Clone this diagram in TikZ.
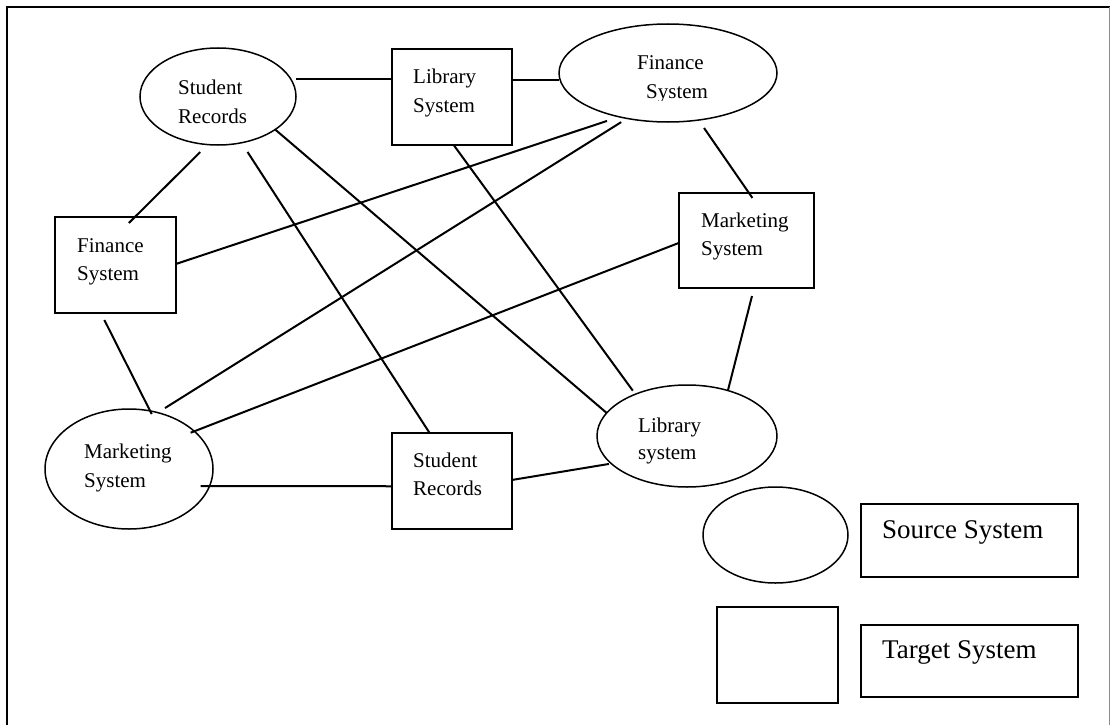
\documentclass[tikz,border=0pt]{standalone}
\usepackage{fontspec}
\setmainfont{Liberation Serif}
\usetikzlibrary{shapes.geometric}
\begin{document}
\begin{tikzpicture}[x=1pt,y=-1pt,
  oval/.style n args={2}{draw,line width=1.5pt,ellipse,inner sep=0pt,outer sep=0pt,minimum width=#1,minimum height=#2},
  box/.style n args={2}{draw,line width=1.5pt,rectangle,inner sep=0pt,outer sep=0pt,minimum width=#1,minimum height=#2},
  lbl/.style={anchor=base west,inner sep=0pt,font=\fontsize{21}{25}\selectfont},
  biglbl/.style={anchor=base west,inner sep=0pt,font=\fontsize{27}{32}\selectfont},
  link/.style={line width=2pt}]
\useasboundingbox (0,0) rectangle (1111,725);
\fill[white] (0,0) rectangle (1111,725);
% frame
\draw[line width=1.5pt] (7,740) -- (7,7) -- (1109.5,7);
\draw[line width=1.2pt,black!45] (1109.5,7) -- (1109.5,740);
% systems
\node[oval={156pt}{97pt}] (sr) at (218,96.5) {};
\node[box={120pt}{96pt}] (ls) at (452,97) {};
\node[oval={218pt}{98pt}] (fe) at (668,73) {};
\node[box={121pt}{96pt}] (fr) at (115.5,265) {};
\node[box={135pt}{95pt}] (mr) at (746.5,240.5) {};
\node[oval={168pt}{120pt}] (me) at (129,469) {};
\node[box={120pt}{96pt}] (srr) at (452,481) {};
\node[oval={180pt}{102pt}] (le) at (687,436) {};
% legend
\node[oval={145pt}{96pt}] (lgo) at (775.5,535) {};
\node[box={217pt}{73pt}] (lsrc) at (969.5,540.5) {};
\node[box={121pt}{96pt}] (lgb) at (777.5,655) {};
\node[box={217pt}{72pt}] (ltgt) at (969.5,661) {};
% texts
\node[lbl] (sr1) at (178,94) {Student};
\node[lbl] (sr2) at (178,123) {Records};
\node[lbl] (ls1) at (413,84) {Library};
\node[lbl] (ls2) at (413,112) {System};
\node[lbl] (fe1) at (637,70) {Finance};
\begin{scope}
\clip (600,20) rectangle (740,100);
\node[lbl] (fe2) at (646,98.5) {System};
\end{scope}
\node[lbl] (fr1) at (77,252) {Finance};
\node[lbl] (fr2) at (77,280) {System};
\node[lbl] (mr1) at (701,227) {Marketing};
\node[lbl] (mr2) at (701,255) {System};
\node[lbl] (me1) at (84,458) {Marketing};
\node[lbl] (me2) at (84,487) {System};
\node[lbl] (srr1) at (413,467) {Student};
\node[lbl] (srr2) at (413,495) {Records};
\node[lbl] (le1) at (638,432) {Library};
\node[lbl] (le2) at (638,459) {system};
\node[biglbl] (lsrct) at (882,538) {Source System};
\node[biglbl] (ltgtt) at (882,658) {Target System};
% connectors
\draw[link] (sr.east |- ls.163.3) -- (ls.163.3);
\draw[link] (ls.16.7) -- (ls.16.7 -| fe.west);
\draw[link,shorten <=10.7pt,shorten >=-8.5pt] (sr.-102.2) -- (fr.68.8);
\draw[link,shorten <=11pt] (sr.-63.6) -- (srr.115.6);
\draw[link] (sr.-30.2) -- (le.164);
\draw[link,shorten >=4.4pt] (ls.-88.8) -- (le.141.7);
\draw[link,shorten >=13pt] (fr.1) -- (fe.-138);
\draw[link,shorten <=8.6pt,shorten >=7pt] (me.63) -- (fe.-132.3);
\draw[link,shorten <=9.7pt,shorten >=-6pt] (fe.-57) -- (mr.87.5);
\draw[link,shorten <=-4pt] (me.30.7) -- (mr.182.1);
\draw[link,shorten <=8.3pt] (mr.-81) -- (le.48);
\draw[link,shorten <=7.8pt,shorten >=-3.5pt] (fr.-107.4) -- (me.70.7);
\draw[link,shorten <=-9pt] (me.-12.7) -- (srr.185.7);
\draw[link,shorten >=2.3pt] (srr.1) -- (le.-160.9);
\end{tikzpicture}
\end{document}
